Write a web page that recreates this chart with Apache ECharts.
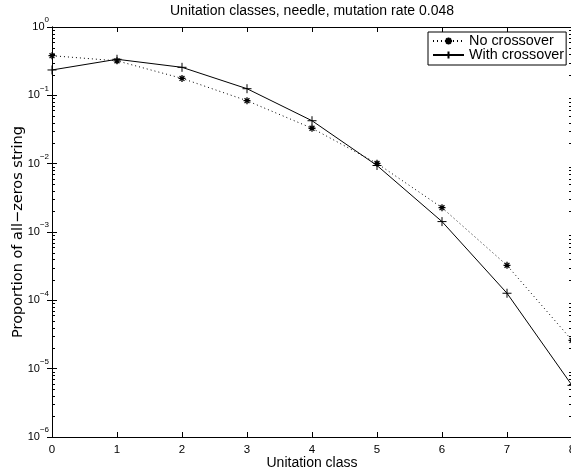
<!DOCTYPE html>
<html><head><meta charset="utf-8">
<script src="https://cdn.jsdelivr.net/npm/echarts@6/dist/echarts.min.js"></script>
<style>html,body{margin:0;padding:0;background:#fff}#c{width:571px;height:472px}</style>
</head><body><div id="c"></div>
<script>
const unitationClass = [0, 1, 2, 3, 4, 5, 6, 7, 8];
const noCrossover = [0.38, 0.32, 0.177, 0.0835, 0.033, 0.0101, 0.00227, 3.25e-4, 2.6e-5];
const withCrossover = [0.235, 0.337, 0.257, 0.125, 0.0425, 0.0094, 0.00142, 1.27e-4, 5.7e-6];
const seriesNames = ['No crossover', 'With crossover'];
const titleText = 'Unitation classes, needle, mutation rate 0.048';
const xName = 'Unitation class';
const yName = 'Proportion of all\u2212zeros string';

const FONT = 'Liberation Sans, Arial, Helvetica, sans-serif';
const chart = echarts.init(document.getElementById('c'), null, {renderer: 'canvas'});

function pairs(ys) { return unitationClass.map((x, i) => [x, ys[i]]); }
function expLabel(v) {
  const e = Math.round(Math.log10(v));
  const s = e < 0 ? '\u2212' + (-e) : String(e);
  return '{b|10}{s|' + s + '}';
}
const ASTERISK = 'path://M0,-1L0,1M-1,0L1,0M-0.7,-0.7L0.7,0.7M-0.7,0.7L0.7,-0.7';
const PLUS = 'path://M0,-1L0,1M-1,0L1,0';

const GL = 52, GT = 27, GW = 520, GH = 410;

const tickStyle = {show: true, inside: true, length: 5, lineStyle: {color: '#000', width: 1}};
const lineStyle = {show: true, lineStyle: {color: '#000', width: 1}};

chart.setOption({
  backgroundColor: '#fff',
  animation: false,
  title: {
    text: titleText, left: 170, top: 4, padding: 0,
    textStyle: {fontFamily: FONT, fontSize: 14, fontWeight: 'normal', color: '#000'}
  },
  grid: {left: GL, top: GT, width: GW, height: GH, containLabel: false, outerBoundsMode: 'none'},
  legend: {
    orient: 'vertical', left: 428, top: 32,
    padding: [2, 2, 3, 4], itemGap: 0, itemWidth: 31, itemHeight: 9,
    borderColor: '#000', borderWidth: 1, backgroundColor: '#fff',
    textStyle: {fontFamily: FONT, fontSize: 14.4, lineHeight: 13, color: '#000'},
    data: seriesNames
  },
  xAxis: [{
    type: 'value', min: 0, max: 8, interval: 1, position: 'bottom',
    axisLine: lineStyle, axisTick: tickStyle, splitLine: {show: false},
    axisLabel: {fontFamily: FONT, fontSize: 11.5, color: '#000', margin: 7, showMaxLabel: true},
    name: xName, nameLocation: 'middle', nameGap: 19, nameMoveOverlap: false,
    nameTextStyle: {fontFamily: FONT, fontSize: 14, color: '#000', verticalAlign: 'top'}
  }, {
    type: 'value', min: 0, max: 8, interval: 1, position: 'top',
    axisLine: lineStyle, axisTick: tickStyle, splitLine: {show: false},
    axisLabel: {show: false}
  }],
  yAxis: [{
    type: 'log', logBase: 10, min: 1e-6, max: 1, splitNumber: 6, position: 'left',
    axisLine: lineStyle, axisTick: tickStyle, splitLine: {show: false}, minorTick: {show: false},
    axisLabel: {
      formatter: expLabel, margin: 3, color: '#000',
      rich: {
        b: {fontFamily: FONT, fontSize: 11, height: 11, lineHeight: 16.5, color: '#000', verticalAlign: 'bottom', padding: [0, 0, 5.5, 0]},
        s: {fontFamily: FONT, fontSize: 8, height: 8, lineHeight: 22, color: '#000', verticalAlign: 'bottom', padding: [0, 0, 14, 0]}
      }
    },
    name: yName, nameLocation: 'middle', nameGap: 26.5, nameRotate: 90, nameMoveOverlap: false,
    nameTextStyle: {fontFamily: 'DejaVu Sans, sans-serif', fontSize: 14.5, color: '#000'}
  }, {
    type: 'log', logBase: 10, min: 1e-6, max: 1, splitNumber: 6, position: 'right',
    axisLine: lineStyle, axisTick: tickStyle, splitLine: {show: false},
    axisLabel: {show: false}
  }],
  series: [{
    name: seriesNames[0], type: 'line', data: pairs(noCrossover),
    symbol: ASTERISK, symbolSize: 7,
    lineStyle: {color: '#000', width: 1, type: [1, 3]},
    itemStyle: {color: '#000', borderColor: '#000', borderWidth: 1.3},
    z: 3
  }, {
    name: seriesNames[1], type: 'line', data: pairs(withCrossover),
    symbol: PLUS, symbolSize: 9,
    lineStyle: {color: '#000', width: 1, type: 'solid'},
    itemStyle: {color: '#000', borderColor: '#000', borderWidth: 1},
    z: 4
  }]
});

// minor log ticks on left and right axes
const minorEls = [];
const xl = chart.convertToPixel({xAxisIndex: 0}, 0);
const xr = chart.convertToPixel({xAxisIndex: 0}, 8);
for (let d = -6; d < 0; d++) {
  for (let k = 2; k <= 9; k++) {
    const y = chart.convertToPixel({yAxisIndex: 0}, k * Math.pow(10, d));
    const yy = Math.round(y) + 0.5;
    minorEls.push({type: 'line', shape: {x1: xl, y1: yy, x2: xl + 3, y2: yy}, style: {stroke: '#000', lineWidth: 1}, silent: true});
    minorEls.push({type: 'line', shape: {x1: xr - 3, y1: yy, x2: xr, y2: yy}, style: {stroke: '#000', lineWidth: 1}, silent: true});
  }
}
chart.setOption({graphic: minorEls});
</script></body></html>
